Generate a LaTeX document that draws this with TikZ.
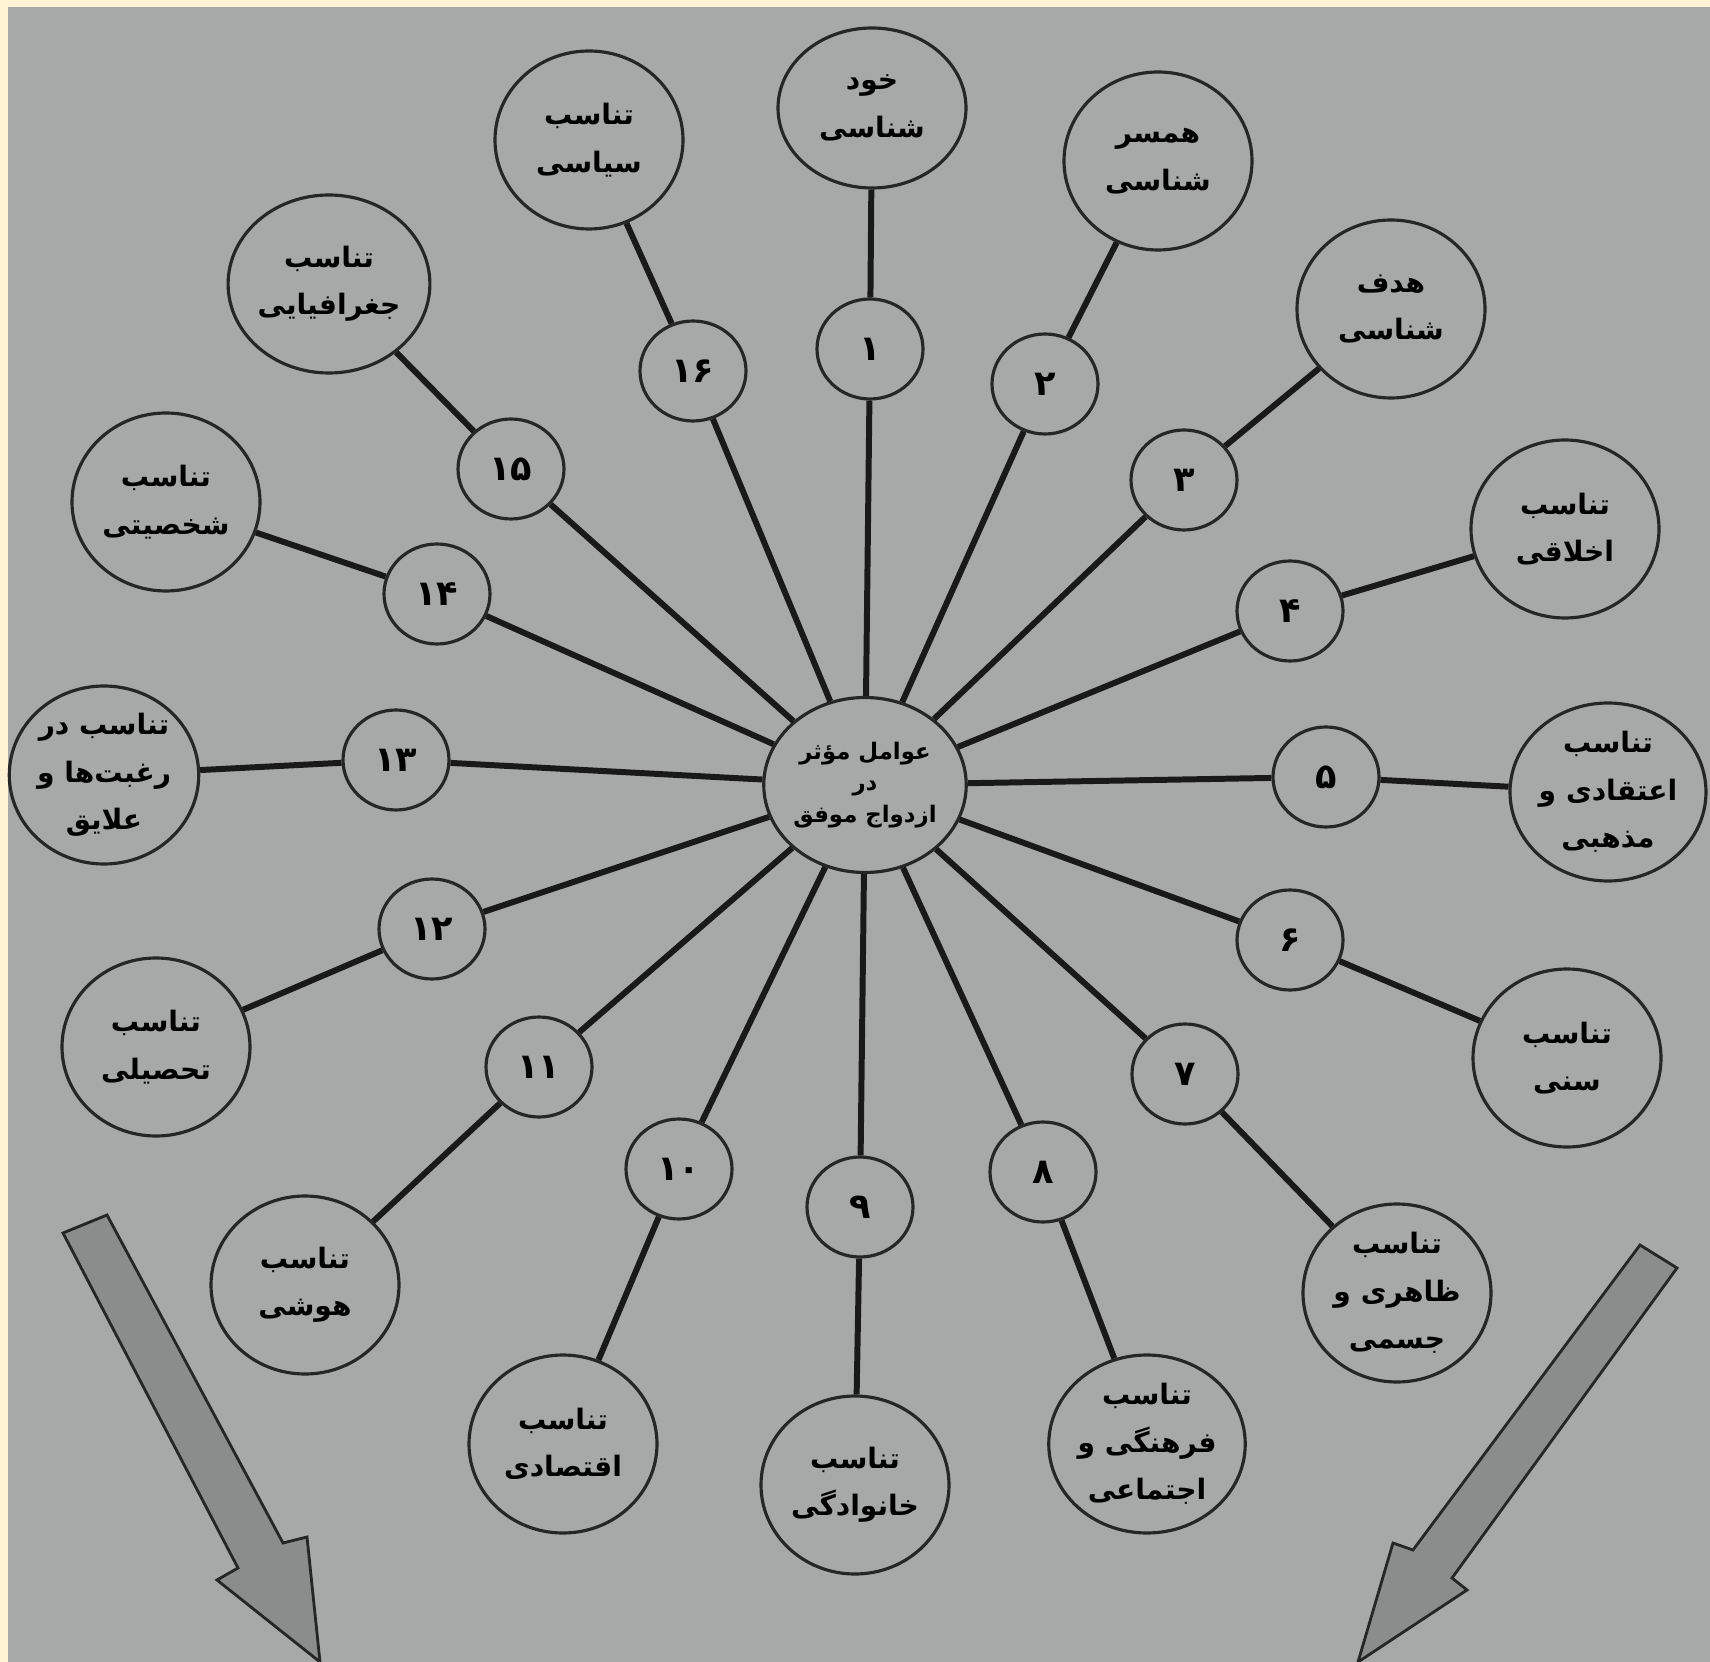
\documentclass[tikz,border=0pt]{standalone}
\usepackage{fontspec}
\usepackage{xcolor}
\usepackage{tikz}
\usetikzlibrary{shapes.geometric}
\TeXXeTstate=1
\newfontfamily\arabicfont[Script=Arabic]{DejaVu Sans}
\definecolor{paper}{HTML}{A7A9A8}
\definecolor{frame}{HTML}{FFF3D4}
\definecolor{arrowgray}{HTML}{8B8C8C}
\tikzset{
  hub/.style      = {ellipse, draw=black!85, line width=0.9pt, fill=paper,
                     minimum width=18.5mm, minimum height=17.5mm, inner sep=0pt,
                     align=center, font=\arabicfont\bfseries\fontsize{6.5}{9}\selectfont},
  numcirc/.style  = {ellipse, draw=black!85, line width=0.9pt, fill=paper,
                     minimum width=10.6mm, minimum height=10mm, inner sep=0pt,
                     font=\arabicfont\bfseries\fontsize{10}{12}\selectfont},
  factor/.style   = {ellipse, draw=black!85, line width=0.9pt, fill=paper,
                     minimum width=18.8mm, minimum height=17.8mm, inner sep=0pt,
                     align=center, font=\arabicfont\bfseries\fontsize{8}{13.5}\selectfont},
  spoke/.style    = {line width=1.7pt, black!90},
  bigarrow/.style = {draw=black!85, line width=0.8pt, fill=arrowgray, line join=miter},
}

\begin{document}
\begin{tikzpicture}[x=0.1mm, y=-0.1mm]

  % page and photo
  \useasboundingbox (0,0) rectangle (1710,1662);
  \fill[frame] (0,0) rectangle (1710,1662);
  \fill[paper] (8,7) rectangle (1710,1662);

  \node[hub] (hub) at (865,785) {\beginR عوامل مؤثر\endR\\\beginR در\endR\\\beginR ازدواج موفق\endR};

  % numbered circles
  \node[numcirc] (n1)  at (870,349)   {۱};
  \node[numcirc] (n2)  at (1045,384)  {۲};
  \node[numcirc] (n3)  at (1184,480)  {۳};
  \node[numcirc] (n4)  at (1290,611)  {۴};
  \node[numcirc] (n5)  at (1326,777)  {۵};
  \node[numcirc] (n6)  at (1290,940)  {۶};
  \node[numcirc] (n7)  at (1185,1074) {۷};
  \node[numcirc] (n8)  at (1043,1172) {۸};
  \node[numcirc] (n9)  at (860,1207)  {۹};
  \node[numcirc] (n10) at (679,1169)  {۱۰};
  \node[numcirc] (n11) at (539,1067)  {۱۱};
  \node[numcirc] (n12) at (432,929)   {۱۲};
  \node[numcirc] (n13) at (396,760)   {۱۳};
  \node[numcirc] (n14) at (437,594)   {۱۴};
  \node[numcirc] (n15) at (511,469)   {۱۵};
  \node[numcirc] (n16) at (693,371)   {۱۶};

  % factor circles
  \node[factor, minimum height=16mm] (f1) at (872,108) {\beginR خود\endR\\\beginR شناسی\endR};
  \node[factor] (f2)  at (1158,161)  {\beginR همسر\endR\\\beginR شناسی\endR};
  \node[factor] (f3)  at (1391,309)  {\beginR هدف\endR\\\beginR شناسی\endR};
  \node[factor] (f4)  at (1565,529)  {\beginR تناسب\endR\\\beginR اخلاقی\endR};
  \node[factor] (f5)  at (1608,792)  {\beginR تناسب\endR\\\beginR اعتقادی و\endR\\\beginR مذهبی\endR};
  \node[factor] (f6)  at (1567,1058) {\beginR تناسب\endR\\\beginR سنی\endR};
  \node[factor] (f7)  at (1397,1293) {\beginR تناسب\endR\\\beginR ظاهری و\endR\\\beginR جسمی\endR};
  \node[factor] (f8)  at (1147,1444) {\beginR تناسب\endR\\\beginR فرهنگی و\endR\\\beginR اجتماعی\endR};
  \node[factor] (f9)  at (855,1485)  {\beginR تناسب\endR\\\beginR خانوادگی\endR};
  \node[factor] (f10) at (563,1444)  {\beginR تناسب\endR\\\beginR اقتصادی\endR};
  \node[factor] (f11) at (305,1285)  {\beginR تناسب\endR\\\beginR هوشی\endR};
  \node[factor] (f12) at (156,1047)  {\beginR تناسب\endR\\\beginR تحصیلی\endR};
  \node[factor] (f13) at (104,775)   {\beginR تناسب در\endR\\\beginR رغبت‌ها و\endR\\\beginR علایق\endR};
  \node[factor] (f14) at (166,502)   {\beginR تناسب\endR\\\beginR شخصیتی\endR};
  \node[factor] (f15) at (329,284)   {\beginR تناسب\endR\\\beginR جغرافیایی\endR};
  \node[factor] (f16) at (589,140)   {\beginR تناسب\endR\\\beginR سیاسی\endR};

  % spokes
  \draw[spoke] (hub) -- (n1);  \draw[spoke] (n1) -- (f1);
  \draw[spoke] (hub) -- (n2);  \draw[spoke] (n2) -- (f2);
  \draw[spoke] (hub) -- (n3);  \draw[spoke] (n3) -- (f3);
  \draw[spoke] (hub) -- (n4);  \draw[spoke] (n4) -- (f4);
  \draw[spoke] (hub) -- (n5);  \draw[spoke] (n5) -- (f5);
  \draw[spoke] (hub) -- (n6);  \draw[spoke] (n6) -- (f6);
  \draw[spoke] (hub) -- (n7);  \draw[spoke] (n7) -- (f7);
  \draw[spoke] (hub) -- (n8);  \draw[spoke] (n8) -- (f8);
  \draw[spoke] (hub) -- (n9);  \draw[spoke] (n9) -- (f9);
  \draw[spoke] (hub) -- (n10); \draw[spoke] (n10) -- (f10);
  \draw[spoke] (hub) -- (n11); \draw[spoke] (n11) -- (f11);
  \draw[spoke] (hub) -- (n12); \draw[spoke] (n12) -- (f12);
  \draw[spoke] (hub) -- (n13); \draw[spoke] (n13) -- (f13);
  \draw[spoke] (hub) -- (n14); \draw[spoke] (n14) -- (f14);
  \draw[spoke] (hub) -- (n15); \draw[spoke] (n15) -- (f15);
  \draw[spoke] (hub) -- (n16); \draw[spoke] (n16) -- (f16);

  % the two big arrows at the bottom
  \draw[bigarrow] (107,1215) -- (283,1543) -- (307,1537) -- (320,1662)
                  -- (217,1580) -- (238,1568) -- (63,1233) -- cycle;
  \draw[bigarrow] (1677,1268) -- (1452,1578) -- (1467,1590) -- (1358,1662)
                  -- (1393,1543) -- (1413,1550) -- (1640,1245) -- cycle;

\end{tikzpicture}
\end{document}
